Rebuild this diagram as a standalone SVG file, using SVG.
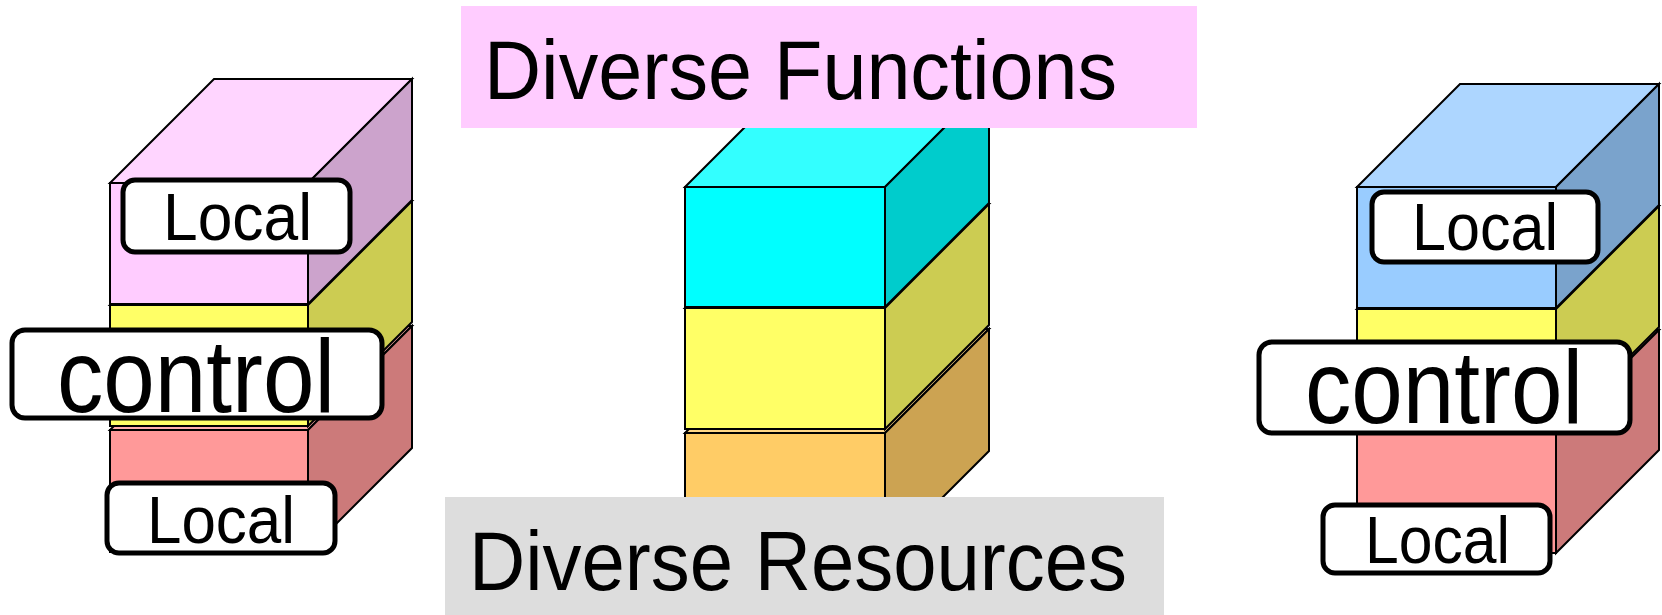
<svg xmlns="http://www.w3.org/2000/svg" width="1662" height="615" viewBox="0 0 1662 615">
<style>
.f{stroke:#000;stroke-width:2;stroke-linejoin:miter}
.lbl{fill:#fff;stroke:#000;stroke-width:5}
.t{font-family:"Liberation Sans",Arial,sans-serif;fill:#000}
.pinkF{fill:#FFCCFF}.pinkT{fill:#FFD5FF}.pinkR{fill:#CCA3CC}
.yelF{fill:#FFFF66}.yelT{fill:#FFFF85}.yelR{fill:#CCCC52}
.redF{fill:#FF9999}.redT{fill:#FFADAD}.redR{fill:#CC7A7A}
.cyaF{fill:#00FFFF}.cyaT{fill:#33FFFF}.cyaR{fill:#00CCCC}
.oraF{fill:#FFCC66}.oraT{fill:#FFD685}.oraR{fill:#CCA352}
.bluF{fill:#99CCFF}.bluT{fill:#ADD6FF}.bluR{fill:#7AA3CC}
</style>
<rect width="1662" height="615" fill="#fff"/>

<g id="left-stack">
  <g id="left-red">
    <polygon class="f redT" points="110,430 214,326 412,326 308,430"/>
    <polygon class="f redR" points="308,430 412,326 412,448 308,552"/>
    <rect class="f redF" x="110" y="430" width="198" height="122"/>
  </g>
  <g id="left-yellow">
    <polygon class="f yelT" points="110,305 214,201 412,201 308,305"/>
    <polygon class="f yelR" points="308,305 412,201 412,322 308,426"/>
    <rect class="f yelF" x="110" y="305" width="198" height="121"/>
  </g>
  <g id="left-pink">
    <polygon class="f pinkT" points="110,183 214,79 412,79 308,183"/>
    <polygon class="f pinkR" points="308,183 412,79 412,200 308,304"/>
    <rect class="f pinkF" x="110" y="183" width="198" height="121"/>
  </g>
</g>

<g id="center-stack">
  <g id="center-orange">
    <polygon class="f oraT" points="685,433 789,329 989,329 885,433"/>
    <polygon class="f oraR" points="885,433 989,329 989,451 885,555"/>
    <rect class="f oraF" x="685" y="433" width="200" height="122"/>
  </g>
  <g id="center-yellow">
    <polygon class="f yelT" points="685,308 789,204 989,204 885,308"/>
    <polygon class="f yelR" points="885,308 989,204 989,325 885,429"/>
    <rect class="f yelF" x="685" y="308" width="200" height="121"/>
  </g>
  <g id="center-cyan">
    <polygon class="f cyaT" points="685,187 789,83 989,83 885,187"/>
    <polygon class="f cyaR" points="885,187 989,83 989,203 885,307"/>
    <rect class="f cyaF" x="685" y="187" width="200" height="120"/>
  </g>
</g>

<g id="right-stack">
  <g id="right-red">
    <polygon class="f redT" points="1357,433 1460,330 1659,330 1556,433"/>
    <polygon class="f redR" points="1556,433 1659,330 1659,450 1556,553"/>
    <rect class="f redF" x="1357" y="433" width="199" height="120"/>
  </g>
  <g id="right-yellow">
    <polygon class="f yelT" points="1357,309 1460,206 1659,206 1556,309"/>
    <polygon class="f yelR" points="1556,309 1659,206 1659,327 1556,430"/>
    <rect class="f yelF" x="1357" y="309" width="199" height="121"/>
  </g>
  <g id="right-blue">
    <polygon class="f bluT" points="1357,187 1460,84 1659,84 1556,187"/>
    <polygon class="f bluR" points="1556,187 1659,84 1659,205 1556,308"/>
    <rect class="f bluF" x="1357" y="187" width="199" height="121"/>
  </g>
</g>

<g id="functions-banner">
  <rect x="461" y="6" width="736" height="122" fill="#FFCCFF"/>
  <text class="t" x="484" y="99" font-size="83" textLength="633" lengthAdjust="spacingAndGlyphs">Diverse Functions</text>
</g>

<g id="resources-banner">
  <rect x="445" y="497" width="719" height="118" fill="#DDDDDD"/>
  <text class="t" x="469" y="590" font-size="83" textLength="658" lengthAdjust="spacingAndGlyphs">Diverse Resources</text>
</g>

<g id="left-local-top">
  <rect class="lbl" x="123" y="180" width="227" height="72" rx="12"/>
  <text class="t" x="237.5" y="240" font-size="66" text-anchor="middle" textLength="149" lengthAdjust="spacingAndGlyphs">Local</text>
</g>
<g id="left-control">
  <rect class="lbl" x="12" y="330" width="370" height="88" rx="13"/>
  <text class="t" x="196" y="412" font-size="104" text-anchor="middle" textLength="278" lengthAdjust="spacingAndGlyphs">control</text>
</g>
<g id="left-local-bottom">
  <rect class="lbl" x="107" y="483" width="228" height="70" rx="12"/>
  <text class="t" x="221" y="543" font-size="66" text-anchor="middle" textLength="148" lengthAdjust="spacingAndGlyphs">Local</text>
</g>

<g id="right-local-top">
  <rect class="lbl" x="1372" y="192" width="226" height="70" rx="12"/>
  <text class="t" x="1485" y="250" font-size="66" text-anchor="middle" textLength="146" lengthAdjust="spacingAndGlyphs">Local</text>
</g>
<g id="right-control">
  <rect class="lbl" x="1259" y="342" width="371" height="91" rx="13"/>
  <text class="t" x="1444" y="423" font-size="104" text-anchor="middle" textLength="278" lengthAdjust="spacingAndGlyphs">control</text>
</g>
<g id="right-local-bottom">
  <rect class="lbl" x="1323" y="505" width="227" height="68" rx="12"/>
  <text class="t" x="1437.5" y="563" font-size="66" text-anchor="middle" textLength="145" lengthAdjust="spacingAndGlyphs">Local</text>
</g>

<g id="connectors"></g>
</svg>
